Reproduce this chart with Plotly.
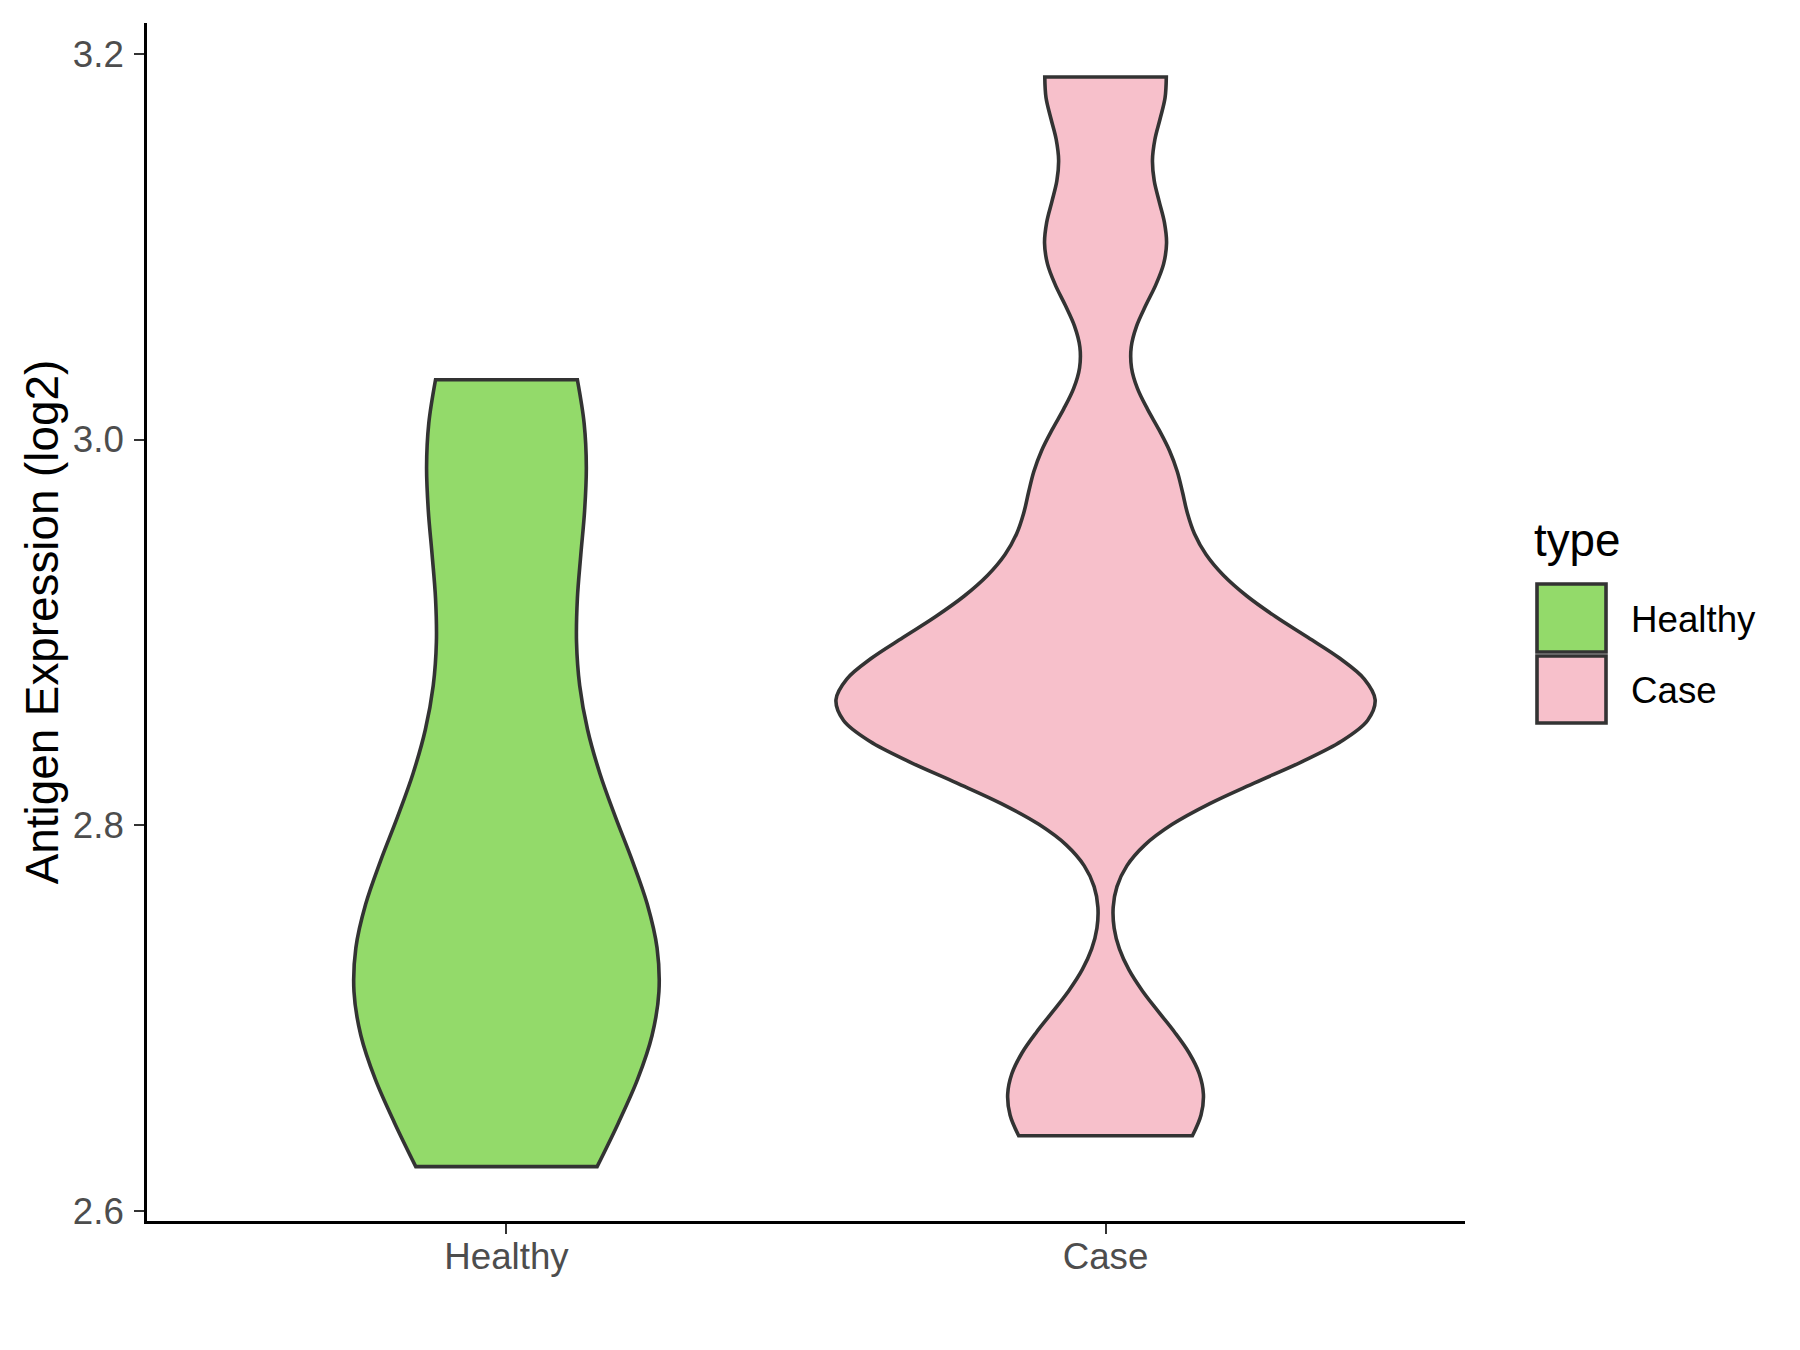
import plotly.graph_objects as go

# ---------------- data ----------------
categories = ["Healthy", "Case"]
healthy_values = [2.623, 2.715, 2.717, 2.736, 2.837, 2.966, 3.031]
case_values = [2.639, 2.679, 2.835, 2.857, 2.860, 2.865, 2.889, 2.925, 2.986, 3.100, 3.188]
y_tick_values = [2.6, 2.8, 3.0, 3.2]
y_tick_labels = ["2.6", "2.8", "3.0", "3.2"]
y_title = "Antigen Expression (log2)"
legend_title = "type"

# ---------------- style ----------------
OFF = 8                       # browser body margin around the plot div
W, H = 1800 - OFF, 1350 - OFF
ML, MT = 147 - OFF, 23 - OFF
MR = W - (1465 - OFF)
MB = H - (1221 - OFF)
FONT = "Liberation Sans, Arial, sans-serif"
colors = {"Healthy": "#93DA6A", "Case": "#F7C0CB"}
bandwidths = {"Healthy": 0.0715, "Case": 0.0323}
widths = {"Healthy": 0.509, "Case": 0.9}
OUTLINE = "#333333"
LW = 3.6

fig = go.Figure()
for cat, vals in zip(categories, [healthy_values, case_values]):
    fig.add_trace(go.Violin(
        x=[cat] * len(vals), y=vals, name=cat,
        fillcolor=colors[cat], line=dict(color=OUTLINE, width=LW),
        opacity=1, points=False, box_visible=False, meanline_visible=False,
        spanmode="hard", bandwidth=bandwidths[cat], width=widths[cat],
        showlegend=False, hoverinfo="skip",
    ))

pw = W - ML - MR
ph = H - MT - MB
def px_x(page_px):
    return (page_px - OFF - ML) / pw
def px_y(page_py):
    return (H - MB - (page_py - OFF)) / ph

# manual legend (ggplot-style large keys), positions in page pixels
shapes = []
annotations = []
key_boxes = [(1537, 584, 1606, 652), (1537, 656, 1606, 723)]
label_centers = [619, 690]
for cat, (x0, y0, x1, y1), yc in zip(categories, key_boxes, label_centers):
    shapes.append(dict(type="rect", xref="paper", yref="paper",
                       x0=px_x(x0), x1=px_x(x1), y0=px_y(y1), y1=px_y(y0),
                       fillcolor=colors[cat], line=dict(color=OUTLINE, width=LW)))
    annotations.append(dict(text=cat, xref="paper", yref="paper", x=px_x(1629), y=px_y(yc),
                            xanchor="left", yanchor="middle", showarrow=False,
                            font=dict(family=FONT, size=36.7, color="black")))
annotations.append(dict(text=legend_title, xref="paper", yref="paper", x=px_x(1532), y=px_y(540),
                        xanchor="left", yanchor="middle", showarrow=False,
                        font=dict(family=FONT, size=45.8, color="black")))

fig.update_layout(
    width=W, height=H,
    margin=dict(l=ML, r=MR, t=MT, b=MB, pad=0),
    paper_bgcolor="white", plot_bgcolor="white",
    font=dict(family=FONT),
    showlegend=False,
    shapes=shapes, annotations=annotations,
    violinmode="overlay",
)
fig.update_xaxes(
    type="category", categoryorder="array", categoryarray=categories,
    range=[-0.6, 1.6], showline=True, linecolor="black", linewidth=2.7,
    ticks="outside", ticklen=10, tickwidth=2.2, tickcolor=OUTLINE,
    tickfont=dict(family=FONT, size=36.7, color="#4D4D4D"),
    showgrid=False, zeroline=False, ticklabelstandoff=-9, automargin=False,
)
fig.update_yaxes(
    range=[2.5948, 3.216], tickvals=y_tick_values, ticktext=y_tick_labels,
    showline=True, linecolor="black", linewidth=2.7,
    ticks="outside", ticklen=10, tickwidth=2.2, tickcolor=OUTLINE,
    tickfont=dict(family=FONT, size=36.7, color="#4D4D4D"),
    showgrid=False, zeroline=False, ticklabelstandoff=3, automargin=False,
    title=dict(text=y_title, font=dict(family=FONT, size=45.8, color="black"), standoff=0),
)

fig.write_html("out.html")
